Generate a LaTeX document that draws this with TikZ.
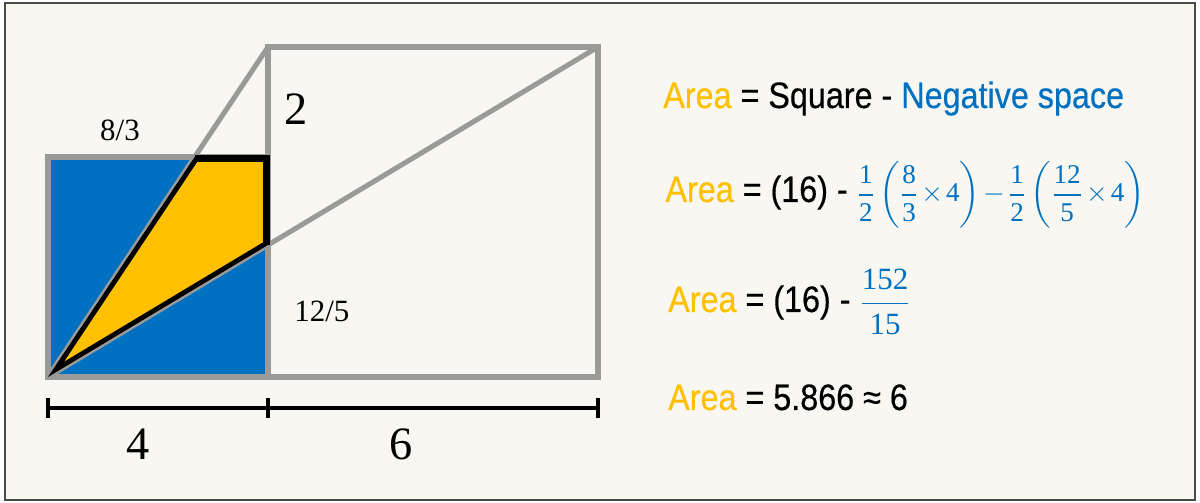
\documentclass[tikz,border=0pt]{standalone}
\usepackage{amsmath}
\usepackage{fontspec}
\setmainfont{Liberation Serif}
\newfontfamily\robo[FakeStretch=0.88, FakeBold=0.4]{Liberation Sans}
\usetikzlibrary{positioning, calc}
\definecolor{areagold}{HTML}{FFC000}
\definecolor{negblue}{HTML}{0070C0}
\definecolor{edgegray}{HTML}{9A9A98}
\definecolor{paper}{HTML}{F8F7F2}
\definecolor{framegray}{HTML}{4A4A4A}
\newcommand{\nm}[1]{\text{\rmfamily #1}}

\begin{document}
\begin{tikzpicture}[
    edge/.style={draw=edgegray, line width=2.6pt},
    dimline/.style={draw=black, line width=2.1pt},
    lbl/.style={inner sep=0pt, font=\fontsize{16}{18}\selectfont},
    biglbl/.style={inner sep=0pt, font=\fontsize{24}{28}\selectfont},
    eqn/.style={anchor=base west, inner sep=0pt, font=\robo\fontsize{19}{22}\selectfont}
]
    % page and frame
    \useasboundingbox (-0.8727,-2.2909) rectangle (20.9455,6.8545);
    \fill[white] (-0.8727,-2.2909) rectangle (20.9455,6.8545);
    \draw[framegray, fill=paper, line width=1pt] (-0.782,-2.236) rectangle (20.855,6.8);

    % corners
    \coordinate (O) at (0,0);
    \coordinate (SQ) at (4,4);
    \coordinate (BL) at (4,0);
    \coordinate (TL) at (4,6);
    \coordinate (TR) at (10,6);
    \coordinate (P) at ({8/3},4);
    \coordinate (Q) at (4,2.4);

    % small square and shaded area
    \fill[negblue] (O) rectangle (SQ);
    \fill[areagold] (O) -- (P) -- (SQ) -- (Q) -- cycle;
    \draw[edge] (O) rectangle (SQ);
    \draw[edge] (BL) rectangle (TR);
    \draw[edge] (O) -- (TL);
    \draw[edge] (O) -- (TR);
    \begin{scope}
        \clip (O) -- (P) -- (SQ) -- (Q) -- cycle;
        \draw[line width=5pt] (O) -- (P) -- (SQ) -- (Q) -- cycle;
    \end{scope}
    \draw[line width=2.4pt] (P) -- (SQ) -- (Q);

    % side labels
    \node[lbl] (eightthirds) at (1.309,4.49) {8/3};
    \node[biglbl] (two) at (4.51,4.87) {2};
    \node[lbl] (twelvefifths) at (4.98,1.2) {12/5};

    % dimension line
    \coordinate (d0) at (0,-0.564);
    \coordinate (d10) at (10,-0.564);
    \draw[dimline] (d0) -- (d10);
    \foreach \x in {0,4,10}
        \draw[dimline] (\x,-0.384) -- (\x,-0.744);
    \node[biglbl] (four) at (1.636,-1.218) {4};
    \node[biglbl] (six) at (6.418,-1.218) {6};

    % equations
    \node[eqn] (eqsquare) at (11.18,4.891) {\textcolor{areagold}{Area} = Square - \textcolor{negblue}{Negative space}};
    \node[eqn] (eqhalves) at (11.22,3.182) {\textcolor{areagold}{Area} = (16) - \textcolor{negblue}{\fontsize{14}{16}\selectfont\medmuskip=2mu$\dfrac{\nm{1}}{\nm{2}}\left(\dfrac{\nm{8}}{\nm{3}}\times\nm{4}\right)-\dfrac{\nm{1}}{\nm{2}}\left(\dfrac{\nm{12}}{\nm{5}}\times\nm{4}\right)$}};
    \node[eqn] (eqsum) at (11.27,1.182) {\textcolor{areagold}{Area} = (16) - \textcolor{negblue}{\fontsize{16}{18}\selectfont$\dfrac{\nm{152}}{\nm{15}}$}};
    \node[eqn] (eqresult) at (11.27,-0.6) {\textcolor{areagold}{Area} = 5.866 ≈ 6};
\end{tikzpicture}
\end{document}
